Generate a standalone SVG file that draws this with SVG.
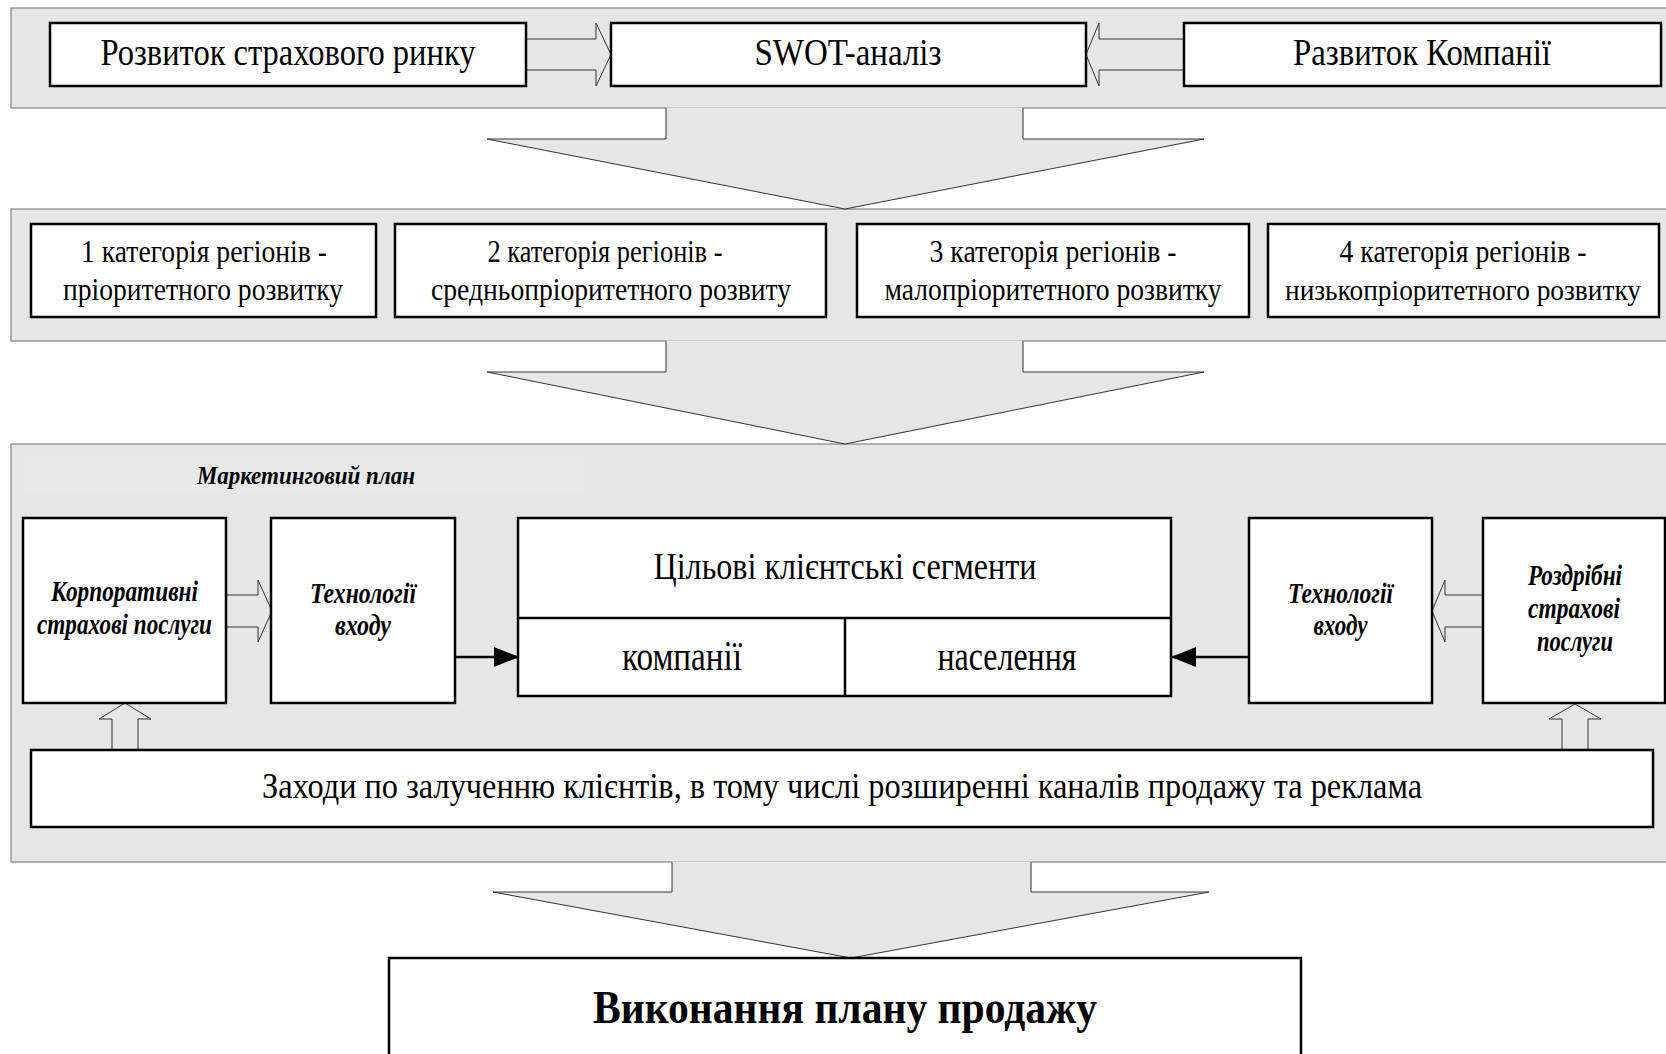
<svg xmlns="http://www.w3.org/2000/svg" width="1666" height="1054" viewBox="0 0 1666 1054">
<style>
.panel{fill:#e6e6e6;stroke:#6e6e6e;stroke-width:1}
.box{fill:#ffffff;stroke:#000;stroke-width:2.5}
.blk{fill:#e6e6e6;stroke:#333;stroke-width:1}
.chev{fill:#e6e6e6;stroke:none}
.chevl{fill:none;stroke:#333;stroke-width:1}
.ln{stroke:#000;stroke-width:2.5;fill:none}
text{font-family:"Liberation Serif","Times New Roman",serif;fill:#000}
.bi{font-weight:bold;font-style:italic}
.b{font-weight:bold}
</style>
<defs>
<marker id="ah" markerUnits="userSpaceOnUse" markerWidth="26" markerHeight="20" refX="25" refY="10" orient="auto">
<path d="M0,0 L25,10 L0,20 Z" fill="#000"/>
</marker>
</defs>
<rect width="1666" height="1054" fill="#fff"/>
<g id="panels">
<rect id="panel1" class="panel" x="11" y="8" width="1680" height="100"/>
<rect id="panel2" class="panel" x="11" y="209" width="1680" height="132"/>
<rect id="panel3" class="panel" x="11" y="444" width="1680" height="418"/>
<rect x="25" y="455" width="560" height="37" fill="#e8e8e8"/>
</g>
<g id="connectors">
<path class="chev" d="M666,107.4 V139 H487 L845,209 L1204,139 H1023 V107.4 Z"/>
<path class="chevl" d="M666,108 V139 H487 L845,209 L1204,139 H1023 V108"/>
<path class="chev" d="M666,340.4 V372 H487 L845,444 L1204,372 H1023 V340.4 Z"/>
<path class="chevl" d="M666,341 V372 H487 L845,444 L1204,372 H1023 V341"/>
<path class="chev" d="M672,861.4 V892 H493 L851,958 L1209,892 H1031 V861.4 Z"/>
<path class="chevl" d="M672,862 V892 H493 L851,958 L1209,892 H1031 V862"/>
<path class="blk" d="M526,39 H596 V23 L611,54.5 L596,86 V70 H526"/>
<path class="blk" d="M1184,39 H1099 V23 L1086,54.5 L1099,86 V70 H1184"/>
<path class="blk" d="M225,595 H258 V580 L272,611 L258,642 V627 H225"/>
<path class="blk" d="M1483,595 H1445 V580 L1432,611 L1445,642 V627 H1483"/>
<path class="blk" d="M112,750 V719 H99 L125,703 L151,719 H138 V750"/>
<path class="blk" d="M1562,750 V719 H1549 L1575,704 L1601,719 H1588 V750"/>
<line class="ln" x1="455" y1="657" x2="519" y2="657" marker-end="url(#ah)"/>
<line class="ln" x1="1249" y1="657" x2="1171" y2="657" marker-end="url(#ah)"/>
</g>
<g id="market">
<rect class="box" x="50" y="23" width="476" height="63"/>
<text x="288" y="65" font-size="37" text-anchor="middle" textLength="375" lengthAdjust="spacingAndGlyphs">Розвиток страхового ринку</text>
</g>
<g id="swot">
<rect class="box" x="611" y="23" width="475" height="63"/>
<text x="848" y="65" font-size="37" text-anchor="middle" textLength="187" lengthAdjust="spacingAndGlyphs">SWOT-аналіз</text>
</g>
<g id="company">
<rect class="box" x="1184" y="23" width="477" height="63"/>
<text x="1422" y="65" font-size="37" text-anchor="middle" textLength="258" lengthAdjust="spacingAndGlyphs">Развиток Компанії</text>
</g>
<g id="cat1">
<rect class="box" x="31" y="224" width="345" height="93"/>
<text x="204" y="262" font-size="32" text-anchor="middle" textLength="246" lengthAdjust="spacingAndGlyphs">1 категорія регіонів -</text>
<text x="203" y="300" font-size="32" text-anchor="middle" textLength="280" lengthAdjust="spacingAndGlyphs">пріоритетного розвитку</text>
</g>
<g id="cat2">
<rect class="box" x="395" y="224" width="431" height="93"/>
<text x="605" y="262" font-size="32" text-anchor="middle" textLength="235" lengthAdjust="spacingAndGlyphs">2 категорія регіонів -</text>
<text x="611" y="300" font-size="32" text-anchor="middle" textLength="360" lengthAdjust="spacingAndGlyphs">средньопріоритетного розвиту</text>
</g>
<g id="cat3">
<rect class="box" x="857" y="224" width="392" height="93"/>
<text x="1053" y="262" font-size="32" text-anchor="middle" textLength="247" lengthAdjust="spacingAndGlyphs">3 категорія регіонів -</text>
<text x="1053" y="300" font-size="31" text-anchor="middle" textLength="337" lengthAdjust="spacingAndGlyphs">малопріоритетного розвитку</text>
</g>
<g id="cat4">
<rect class="box" x="1268" y="224" width="391" height="93"/>
<text x="1463" y="262" font-size="32" text-anchor="middle" textLength="247" lengthAdjust="spacingAndGlyphs">4 категорія регіонів -</text>
<text x="1463" y="300" font-size="28.5" text-anchor="middle" textLength="356" lengthAdjust="spacingAndGlyphs">низькопріоритетного розвитку</text>
</g>
<g id="plan-title">
<text class="bi" x="197" y="484" font-size="25" textLength="218" lengthAdjust="spacingAndGlyphs">Маркетинговий план</text>
</g>
<g id="corporate">
<rect class="box" x="23" y="518" width="203" height="185"/>
<text class="bi" x="124.5" y="601" font-size="29" text-anchor="middle" textLength="147" lengthAdjust="spacingAndGlyphs">Корпоративні</text>
<text class="bi" x="124.5" y="634" font-size="29" text-anchor="middle" textLength="175" lengthAdjust="spacingAndGlyphs">страхові послуги</text>
</g>
<g id="tech-left">
<rect class="box" x="271" y="518" width="184" height="185"/>
<text class="bi" x="363" y="603" font-size="29" text-anchor="middle" textLength="106" lengthAdjust="spacingAndGlyphs">Технології</text>
<text class="bi" x="363" y="635" font-size="29" text-anchor="middle" textLength="56" lengthAdjust="spacingAndGlyphs">входу</text>
</g>
<g id="segments">
<rect class="box" x="518" y="518" width="653" height="178"/>
<line class="ln" x1="518" y1="618" x2="1171" y2="618"/>
<line class="ln" x1="845" y1="618" x2="845" y2="696"/>
<text x="845" y="579" font-size="37" text-anchor="middle" textLength="383" lengthAdjust="spacingAndGlyphs">Цільові клієнтські сегменти</text>
<text x="682" y="670" font-size="42" text-anchor="middle" textLength="120" lengthAdjust="spacingAndGlyphs">компанії</text>
<text x="1007" y="670" font-size="42" text-anchor="middle" textLength="139" lengthAdjust="spacingAndGlyphs">населення</text>
</g>
<g id="tech-right">
<rect class="box" x="1249" y="518" width="183" height="185"/>
<text class="bi" x="1340.5" y="603" font-size="29" text-anchor="middle" textLength="105" lengthAdjust="spacingAndGlyphs">Технології</text>
<text class="bi" x="1340.5" y="635" font-size="29" text-anchor="middle" textLength="54" lengthAdjust="spacingAndGlyphs">входу</text>
</g>
<g id="retail">
<rect class="box" x="1483" y="518" width="182" height="185"/>
<text class="bi" x="1575" y="585" font-size="29" text-anchor="middle" textLength="94" lengthAdjust="spacingAndGlyphs">Роздрібні</text>
<text class="bi" x="1574" y="618" font-size="29" text-anchor="middle" textLength="92" lengthAdjust="spacingAndGlyphs">страхові</text>
<text class="bi" x="1575" y="651" font-size="29" text-anchor="middle" textLength="76" lengthAdjust="spacingAndGlyphs">послуги</text>
</g>
<g id="measures">
<rect class="box" x="31" y="750" width="1622" height="77"/>
<text x="842" y="798" font-size="35" text-anchor="middle" textLength="1160" lengthAdjust="spacingAndGlyphs">Заходи по залученню клієнтів, в тому числі розширенні каналів продажу та реклама</text>
</g>
<g id="sales">
<rect class="box" x="389" y="958" width="912" height="120"/>
<text class="b" x="845" y="1023" font-size="47" text-anchor="middle" textLength="504" lengthAdjust="spacingAndGlyphs">Виконання плану продажу</text>
</g>
</svg>
